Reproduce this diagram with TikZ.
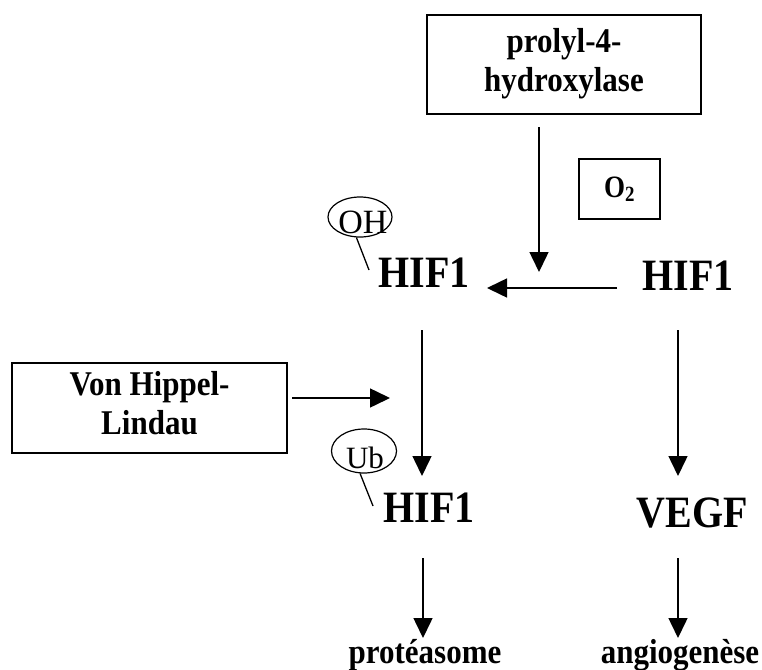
\documentclass[tikz,border=0pt]{standalone}
\usepackage{fontspec}
\setmainfont{Liberation Serif}
\usetikzlibrary{arrows.meta,shapes.geometric}
\newcommand\vstretch[2][1.12]{\scalebox{1}[#1]{#2}}
\begin{document}
\begin{tikzpicture}[x=1pt,y=-1pt,
  box/.style={draw,line width=1.5pt,inner sep=0pt,align=center,
    font=\bfseries\fontsize{31}{32}\selectfont},
  big/.style={inner sep=0pt,anchor=base,font=\bfseries\fontsize{40}{44}\selectfont},
  lbl/.style={inner sep=0pt,anchor=base,font=\bfseries\fontsize{31}{35}\selectfont},
  tag/.style={draw,ellipse,line width=1.2pt,inner sep=0pt},
  tagtext/.style={inner sep=0pt,anchor=base},
  arr/.style={line width=1.5pt,-{Triangle[length=20pt,width=19pt]}},
  stem/.style={line width=1.3pt}]
\useasboundingbox (0,0) rectangle (762,669);
% boxes
\node[box,minimum width=274pt,minimum height=99pt] (prolyl) at (564,64.5)
  {\vstretch{\begin{tabular}{@{}c@{}}prolyl-4-\\[3pt]hydroxylase\end{tabular}}};
\node[box,minimum width=81pt,minimum height=60pt,font=\bfseries\fontsize{27}{30}\selectfont] (o2) at (619.5,189) {\vstretch[1.15]{O$_{\mathbf 2}$}};
\node[box,minimum width=275pt,minimum height=90pt] (vhl) at (149.5,408)
  {\vstretch{\begin{tabular}{@{}c@{}}Von Hippel-\\[3pt]Lindau\end{tabular}}};
% HIF1 etc
\node[big] (hifL) at (424,287) {\vstretch{HIF1}};
\node[big] (hifR) at (688,290) {\vstretch{HIF1}};
\node[big] (hifB) at (429,522) {\vstretch{HIF1}};
\node[big] (vegf) at (692,527) {\vstretch{VEGF}};
\node[lbl] (prot) at (425,663) {\vstretch{protéasome}};
\node[lbl] (angio) at (680,663) {\vstretch{angiogenèse}};
% tags
\node[tag,minimum width=64pt,minimum height=40pt] (oh) at (360,217) {};
\node[tagtext,font=\fontsize{34}{38}\selectfont] (ohT) at (363,233) {OH};
\node[tag,minimum width=65pt,minimum height=44pt] (ub) at (364,451) {};
\node[tagtext,font=\fontsize{31}{35}\selectfont] (ubT) at (365,468) {Ub};
\coordinate (ohEnd) at (369,270);
\coordinate (ubEnd) at (373,506);
\draw[stem] (oh.260) -- (ohEnd);
\draw[stem] (ub.260) -- (ubEnd);
% arrow points
\coordinate (a1s) at (539,127); \coordinate (a1e) at (539,272);
\coordinate (a2s) at (617,288); \coordinate (a2e) at (487,288);
\coordinate (a3s) at (422,330); \coordinate (a3e) at (422,476);
\coordinate (a4s) at (678,330); \coordinate (a4e) at (678,476);
\coordinate (a5s) at (292,398); \coordinate (a5e) at (390,398);
\coordinate (a6s) at (423,558); \coordinate (a6e) at (423,638);
\coordinate (a7s) at (678,558); \coordinate (a7e) at (678,638);
\draw[arr] (a1s) -- (a1e);
\draw[arr] (a2s) -- (a2e);
\draw[arr] (a3s) -- (a3e);
\draw[arr] (a4s) -- (a4e);
\draw[arr] (a5s) -- (a5e);
\draw[arr] (a6s) -- (a6e);
\draw[arr] (a7s) -- (a7e);
\end{tikzpicture}
\end{document}
